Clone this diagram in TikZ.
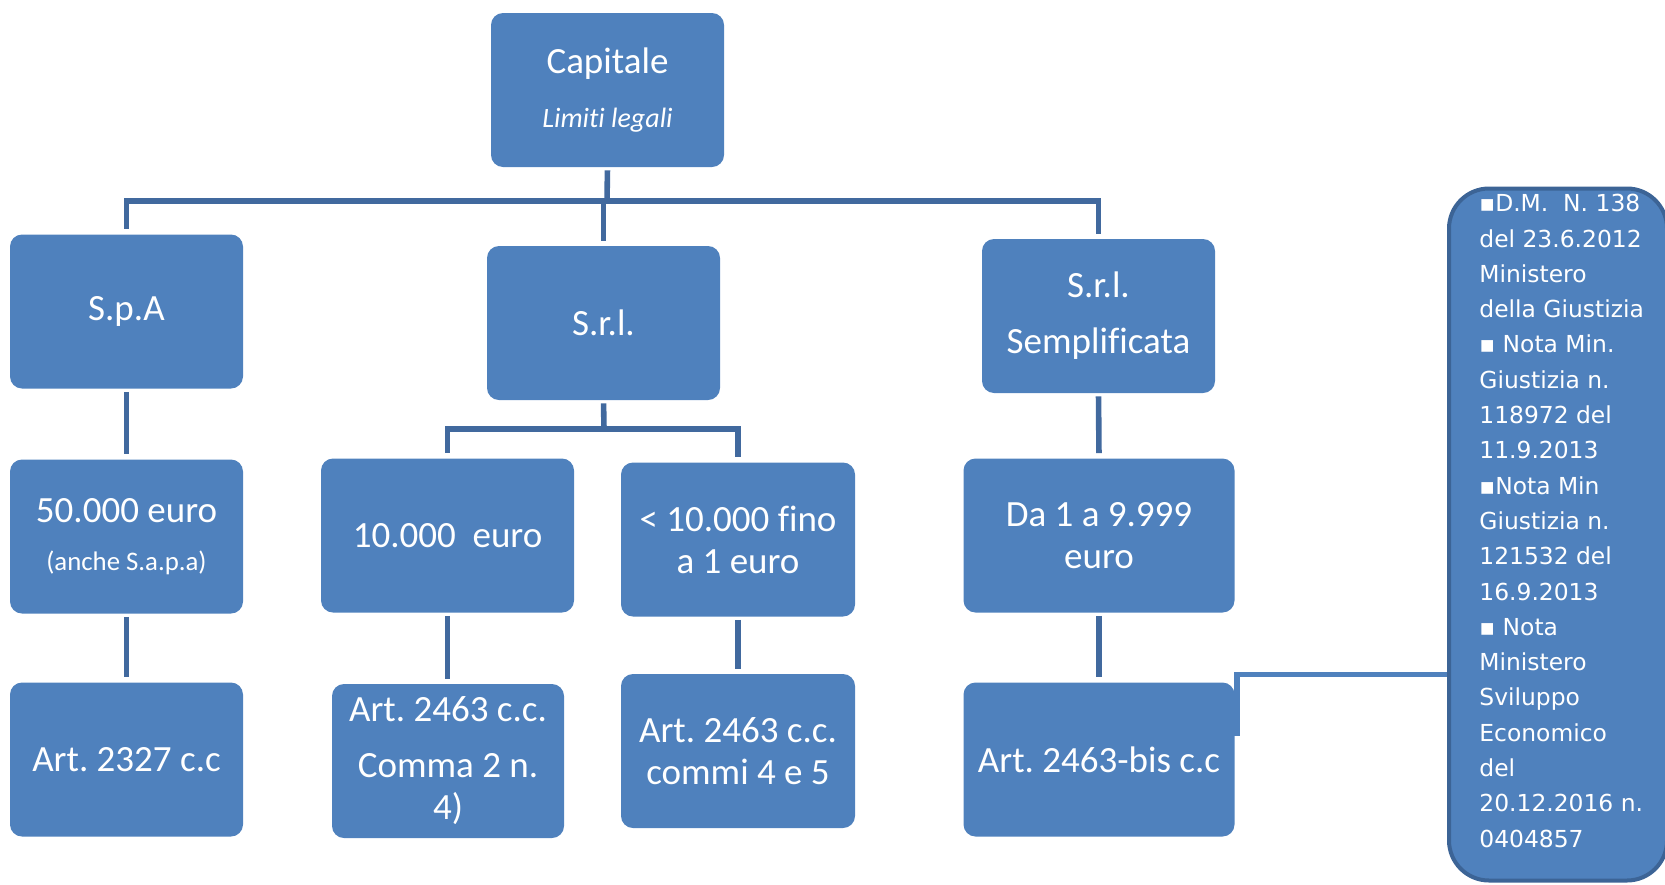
\documentclass[tikz,border=0pt]{standalone}
\usepackage{fontspec}
\setmainfont{Carlito}[Ligatures=NoCommon]
\newfontfamily\notefont{DejaVu Sans}
\usepackage{tikz}
\usetikzlibrary{calc}
\definecolor{boxblue}{HTML}{4F81BD}
\definecolor{treeblue}{HTML}{41699E}
\definecolor{noteedge}{HTML}{3C6496}
\frenchspacing

\begin{document}
\begin{tikzpicture}[x=0.5pt,y=-0.5pt,blk/.style={fill=boxblue,rounded corners=6pt,text=white,align=center,inner sep=0pt,minimum width=#1*0.5pt,minimum height=77pt,font=\fontsize{18.5}{21}\selectfont},blk/.default=233,tree/.style={draw=treeblue,line width=2.8pt},gap/.style={shorten <=1.5pt,shorten >=2.5pt},link/.style={draw=boxblue,line width=2.6pt},notebox/.style={fill=boxblue,draw=noteedge,line width=2pt,rounded corners=20pt,minimum width=109pt,minimum height=346pt,inner sep=0pt},notetext/.style={text=white,align=left,inner sep=0pt,font=\notefont\fontsize{11.7}{17.65}\selectfont}]
\useasboundingbox (0,0) rectangle (1665,884);
% boxes of the tree
\node[blk] (cap) at (607.5,90) {Capitale\\[6pt]{\fontsize{14}{16}\selectfont\itshape Limiti legali}};
\node[blk] (spa) at (126.5,311.5) {S.p.A};
\node[blk] (srl) at (603.5,323) {S.r.l.};
\node[blk] (srls) at (1098.5,316) {S.r.l.\\[7pt]Semplificata};
\node[blk] (spacap) at (126.5,536.5) {50.000 euro\\[3pt]{\fontsize{13.4}{15}\selectfont (anche S.a.p.a)}};
\node[blk=253] (srlcap) at (447.5,535.5) {10.000\ \ euro};
\node[blk=234] (srlmin) at (738,539.5) {< 10.000 fino\\a 1 euro};
\node[blk=271] (srlscap) at (1099,535.5) {Da 1 a 9.999\\euro};
\node[blk] (spaart) at (126.5,759.5) {Art. 2327 c.c};
\node[blk=232] (srlart) at (448,761) {Art. 2463 c.c.\\[7pt]Comma 2 n.\\4)};
\node[blk=234] (srlminart) at (738,751) {Art. 2463 c.c.\\commi 4 e 5};
\node[blk=271] (srlsart) at (1099,759.5) {Art. 2463-bis c.c};
% note on the right
\node[notebox] (note) at (1558,534.5) {};
\node[notetext,anchor=north west] (notetxt) at (1479,194) {▪D.M.\ \ N. 138\\del 23.6.2012\\Ministero\\della Giustizia\\▪ Nota Min.\\Giustizia n.\\118972 del\\11.9.2013\\▪Nota Min\\Giustizia n.\\121532 del\\16.9.2013\\▪ Nota\\Ministero\\Sviluppo\\Economico\\del\\20.12.2016 n.\\0404857};
% connectors
\coordinate (bus1) at (607,201);
\coordinate (bus2) at (604,429);
\draw[tree,shorten <=1.5pt] (cap.south) -- (bus1);
\draw[tree,shorten >=2.5pt] (bus1) -| (spa.north);
\draw[tree,shorten >=2.5pt] (bus1) -| (srl.north);
\draw[tree,shorten >=2.5pt] (bus1) -| (srls.north);
\draw[tree,shorten <=1.5pt] (srl.south) -- (bus2);
\draw[tree,shorten >=2.5pt] (bus2) -| (srlcap.north);
\draw[tree,shorten >=2.5pt] (bus2) -| (srlmin.north);
\draw[tree,gap] (spa.south) -- (spacap.north);
\draw[tree,gap] (spacap.south) -- (spaart.north);
\draw[tree,gap] (srlcap.south) -- (srlcap.south |- srlart.north);
\draw[tree,gap] (srlmin.south) -- (srlminart.north);
\draw[tree,gap] (srls.south) -- (srlscap.north);
\draw[tree,gap] (srlscap.south) -- (srlsart.north);
\coordinate (bisend) at (1208,733);
\draw[link] ([yshift=-70pt]note.west) -| ([xshift=1pt]bisend -| srlsart.east) -- (bisend);
\end{tikzpicture}
\end{document}
